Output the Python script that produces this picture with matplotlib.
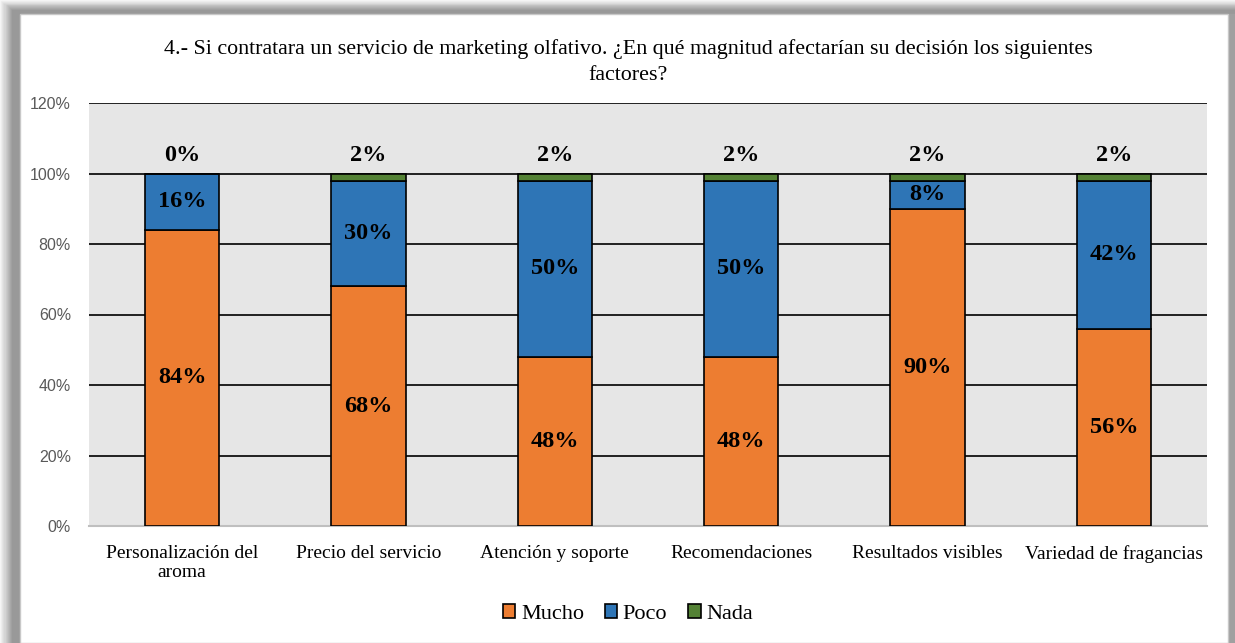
import numpy as np
import matplotlib
matplotlib.use("Agg")
import matplotlib.pyplot as plt
from matplotlib.patches import Rectangle

categories = ["Personalización del\naroma", "Precio del servicio", "Atención y soporte",
              "Recomendaciones", "Resultados visibles", "Variedad de fragancias"]
mucho = [84, 68, 48, 48, 90, 56]
poco = [16, 30, 50, 50, 8, 42]
nada = [0, 2, 2, 2, 2, 2]
series_names = ["Mucho", "Poco", "Nada"]
colors = ["#ED7D31", "#2E75B6", "#548235"]
yticks = [0, 20, 40, 60, 80, 100, 120]

W, H = 1235, 643
fig = plt.figure(figsize=(W / 100, H / 100), dpi=100)
fig.patch.set_facecolor("white")

# soft drop-shadow frame around the white chart panel
bg = fig.add_axes([0, 0, 1, 1])
bg.set_xlim(0, W)
bg.set_ylim(H, 0)
bg.axis("off")
shades = np.linspace(0.97, 0.60, 12)
for k, s in enumerate(shades):
    c = (s, s, s)
    bg.add_patch(Rectangle((k * 1.1, k * 0.9), W, H, color=c, zorder=1 + k * 0.01))
bg.add_patch(Rectangle((1228, 14), 7, H, color="#a0a0a0", zorder=2))
bg.add_patch(Rectangle((20, 14), 1208, H - 14, facecolor="white",
                       edgecolor="#c8c8c8", linewidth=1, zorder=3))

# plot area in pixel coordinates
x0, x1 = 89, 1207
ytop, ybot = 103, 526
ax = fig.add_axes([x0 / W, 1 - ybot / H, (x1 - x0) / W, (ybot - ytop) / H])
ax.set_facecolor("#E6E6E6")

x = np.arange(len(categories))
width = 0.4
bottoms = np.zeros(len(categories))
for vals, name, col in zip([mucho, poco, nada], series_names, colors):
    ax.bar(x, vals, width, bottom=bottoms, color=col, edgecolor="black",
           linewidth=1.2, label=name, zorder=3)
    bottoms = bottoms + np.array(vals)

serif = "Liberation Serif"
lab_kw = dict(ha="center", va="center", fontfamily=serif, fontweight="bold",
              fontsize=17.5, color="black", zorder=5)
for i in range(len(categories)):
    ax.text(x[i], mucho[i] / 2, f"{mucho[i]}%", **lab_kw)
    ax.text(x[i], mucho[i] + poco[i] / 2, f"{poco[i]}%", **lab_kw)
    top = mucho[i] + poco[i] + nada[i]
    ax.text(x[i], top + 5.0, f"{nada[i]}%", **lab_kw)

ax.set_xlim(-0.5, len(categories) - 0.5)
ax.set_ylim(0, 120)
ax.set_yticks(yticks)
ax.set_yticklabels([f"{v}%" for v in yticks], fontfamily="Liberation Sans",
                   fontsize=11.5, color="#595959")
ax.set_xticks(x)
ax.set_xticklabels(categories, fontfamily=serif, fontsize=14, color="black",
                   linespacing=1.1)
ax.tick_params(axis="x", length=0, pad=14)
ax.tick_params(axis="y", length=0, pad=13)
ax.yaxis.grid(True, color="black", linewidth=1.2, zorder=1)
ax.set_axisbelow(True)
for s in ["left", "right", "top"]:
    ax.spines[s].set_visible(False)
ax.spines["bottom"].set_color("#BFBFBF")
ax.spines["bottom"].set_linewidth(1.5)

fig.text(628 / W, 1 - 62 / H,
         "4.- Si contratara un servicio de marketing olfativo. ¿En qué magnitud afectarían su decisión los siguientes\nfactores?",
         ha="center", va="center", fontfamily=serif, fontsize=15.8, linespacing=1.45)

leg = fig.legend(*ax.get_legend_handles_labels(), loc="center",
                 bbox_to_anchor=(628 / W, 1 - 614 / H), ncol=3, frameon=False,
                 prop={"family": serif, "size": 16}, handlelength=0.55,
                 handleheight=0.55, handletextpad=0.25, columnspacing=0.95)

fig.savefig("out.png", dpi=100)
